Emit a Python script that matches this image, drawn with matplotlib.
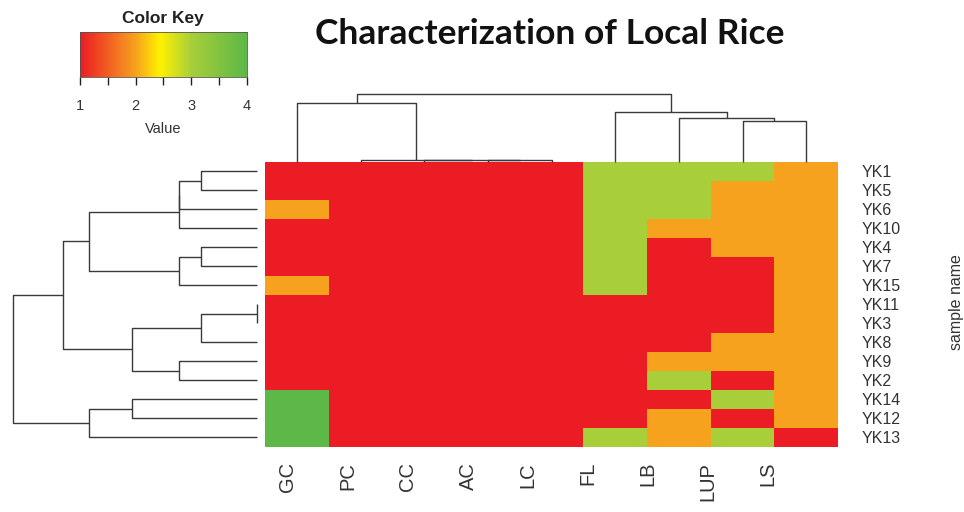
import numpy as np
import matplotlib
matplotlib.use('Agg')
import matplotlib.pyplot as plt
from matplotlib.colors import LinearSegmentedColormap

# samples (rows, top to bottom) and traits (columns, left to right)
samples = ['YK1', 'YK5', 'YK6', 'YK10', 'YK4', 'YK7', 'YK15', 'YK11',
           'YK3', 'YK8', 'YK9', 'YK2', 'YK14', 'YK12', 'YK13']
traits = ['GC', 'PC', 'CC', 'AC', 'LC', 'FL', 'LB', 'LUP', 'LS']

# scores per trait, in sample order
gc = [1, 1, 2, 1, 1, 1, 2, 1, 1, 1, 1, 1, 4, 4, 4]
pc = [1] * 15
cc = [1] * 15
ac = [1] * 15
lc = [1] * 15
fl = [3, 3, 3, 3, 3, 3, 3, 1, 1, 1, 1, 1, 1, 1, 3]
lb = [3, 3, 3, 2, 1, 1, 1, 1, 1, 1, 2, 3, 1, 2, 2]
lup = [3, 2, 2, 2, 2, 1, 1, 1, 1, 2, 2, 1, 3, 1, 3]
ls = [2, 2, 2, 2, 2, 2, 2, 2, 2, 2, 2, 2, 2, 2, 1]

# dendrogram merges: (child a, child b, height); leaves are 0..n-1, new nodes n, n+1, ...
row_merges = [(0, 1, 0.228), (15, 2, 0.321), (16, 3, 0.321), (4, 5, 0.228),
              (18, 6, 0.321), (17, 19, 0.686), (7, 8, 0.0), (21, 9, 0.228),
              (10, 11, 0.321), (22, 23, 0.512), (20, 24, 0.795), (12, 13, 0.512),
              (26, 14, 0.686), (25, 27, 1.0)]
col_merges = [(3, 4, 0.03), (2, 9, 0.03), (1, 10, 0.03), (0, 11, 0.86),
              (7, 8, 0.595), (6, 13, 0.639), (5, 14, 0.736), (12, 15, 1.0)]

W, H = 964, 512
LINE = '#3a3a3a'
TXT = '#333333'


def px_axes(fig, x0, y0, x1, y1):
    # axes from pixel box (top-left origin)
    return fig.add_axes([x0 / W, 1 - y1 / H, (x1 - x0) / W, (y1 - y0) / H])


def draw_dendro(ax, merges, n, side):
    pos = {i: i + 0.5 for i in range(n)}
    hgt = {i: 0.0 for i in range(n)}
    for k, (a, b, h) in enumerate(merges):
        p = [pos[a], pos[a], pos[b], pos[b]]
        q = [hgt[a], h, h, hgt[b]]
        if side == 'top':
            ax.plot(p, q, color=LINE, lw=1.0, clip_on=False, solid_capstyle='butt')
        else:
            ax.plot(q, p, color=LINE, lw=1.0, clip_on=False, solid_capstyle='butt')
        pos[n + k] = (pos[a] + pos[b]) / 2
        hgt[n + k] = h


cmap = LinearSegmentedColormap.from_list('key', [
    (0.0, '#EC1C24'), (1 / 3, '#F7A21E'), (0.48, '#FFF200'),
    (2 / 3, '#A8CF3A'), (1.0, '#5DB847')])

data = np.column_stack([gc, pc, cc, ac, lc, fl, lb, lup, ls])
nr, nc = data.shape

fig = plt.figure(figsize=(W / 100, H / 100), dpi=100)

# heatmap
hx0, hx1, hy0, hy1 = 265, 838, 161.7, 446.7
ax = px_axes(fig, hx0, hy0, hx1, hy1)
ax.imshow(data, cmap=cmap, vmin=1, vmax=4, aspect='auto',
          interpolation='nearest', extent=(0, nc, nr, 0))
ax.set_xlim(0, nc)
ax.set_ylim(nr, 0)
for s in ax.spines.values():
    s.set_visible(False)
ax.set_xticks([])
ax.yaxis.tick_right()
ax.set_yticks(np.arange(nr) + 0.5)
ax.set_yticklabels(samples, fontsize=11.5, color=TXT, family='Liberation Sans')
ax.tick_params(axis='y', length=0, pad=17)

# column labels
lab = px_axes(fig, 258, hy1 - 1, 798, hy1)
lab.set_xlim(0, nc)
lab.set_xticks(np.arange(nc) + 0.5)
lab.set_xticklabels(traits, rotation=90, fontsize=14.5, color=TXT, family='Liberation Sans')
lab.tick_params(axis='x', length=0, pad=11)
lab.set_yticks([])
for s in lab.spines.values():
    s.set_visible(False)
lab.patch.set_visible(False)

# row dendrogram
rd = px_axes(fig, 12.7, hy0, 257, hy1)
draw_dendro(rd, row_merges, nr, 'left')
rd.set_xlim(1, 0)
rd.set_ylim(nr, 0)
rd.axis('off')

# column dendrogram
cd = px_axes(fig, hx0, 94, hx1, hy0)
draw_dendro(cd, col_merges, nc, 'top')
cd.set_xlim(0, nc)
cd.set_ylim(0, 1)
cd.axis('off')

# color key
kx = px_axes(fig, 80, 32, 247, 77)
grad = np.linspace(1, 4, 256)[None, :]
kx.imshow(grad, cmap=cmap, vmin=1, vmax=4, aspect='auto', extent=(1, 4, 0, 1))
kx.set_xlim(1, 4)
kx.set_ylim(0, 1)
kx.set_yticks([])
kx.set_xticks([1, 2, 3, 4])
kx.set_xticks([1.5, 2.5, 3.5], minor=True)
kx.tick_params(axis='x', which='both', direction='out', length=6, width=1.0,
               color='#222222', pad=10, labelsize=10.5, labelcolor=TXT)
for lbl in kx.get_xticklabels():
    lbl.set_family('Liberation Sans')
for s in kx.spines.values():
    s.set_linewidth(0.6)
    s.set_color('#555555')
kx.set_xlabel('Value', fontsize=10.5, color=TXT, family='Liberation Sans', labelpad=6)
fig.text(163 / W, 1 - 18 / H, 'Color Key', ha='center', va='center',
         fontsize=12.5, fontweight='bold', color='#222222', family='Liberation Sans')

# titles
fig.text(550 / W, 1 - 44 / H, 'Characterization of Local Rice', ha='center',
         va='baseline', fontsize=25.5, fontweight='bold', color='#111111', family='Lato')
fig.text(957 / W, 1 - 302 / H, 'sample name', ha='center', va='center', rotation=90,
         fontsize=11.5, color=TXT, family='Liberation Sans')

fig.savefig('out.png', dpi=100)
